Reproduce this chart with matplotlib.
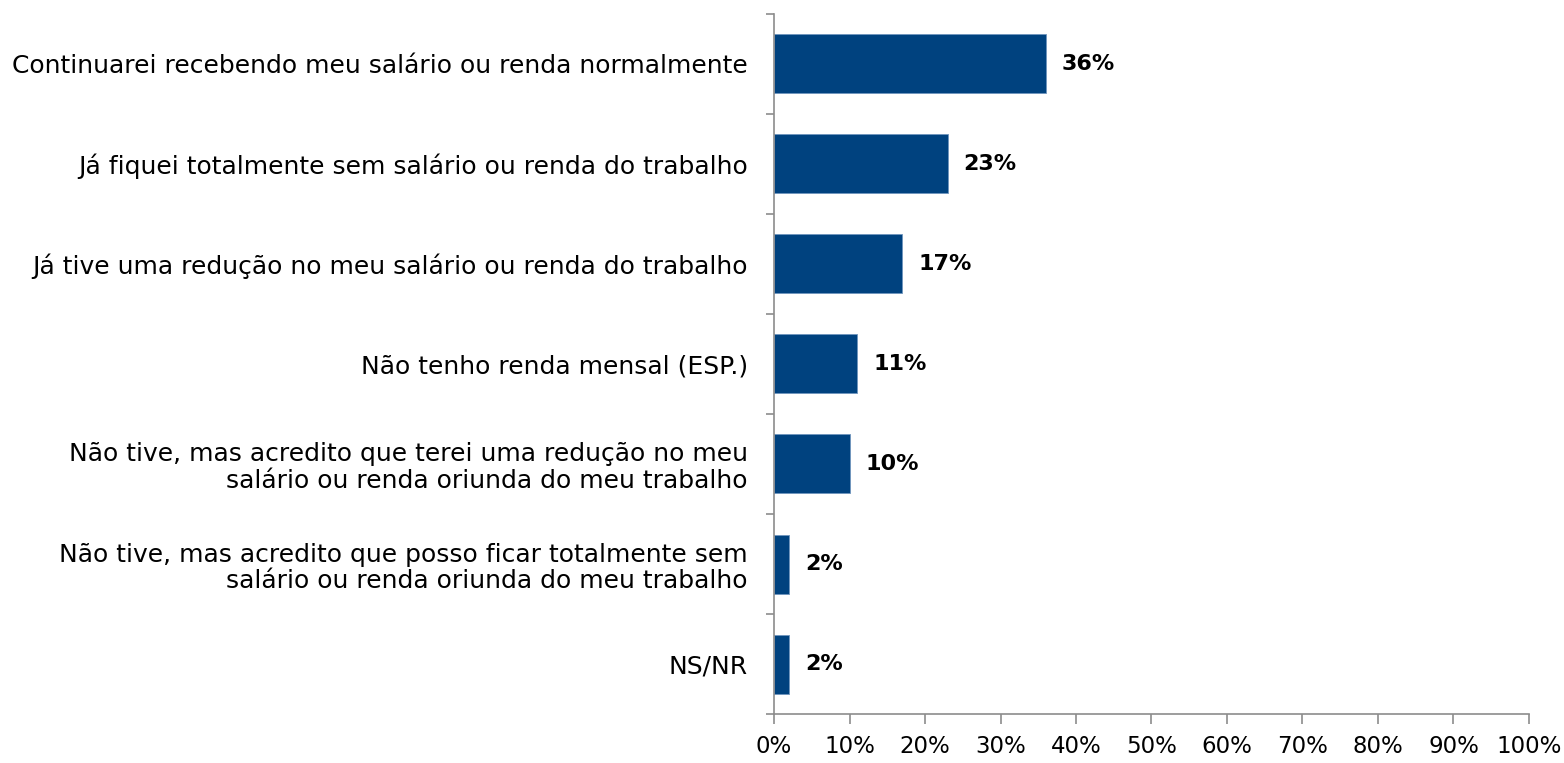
import matplotlib.pyplot as plt
from matplotlib.ticker import FixedLocator, PercentFormatter

categories = [
    "Continuarei recebendo meu salário ou renda normalmente",
    "Já fiquei totalmente sem salário ou renda do trabalho",
    "Já tive uma redução no meu salário ou renda do trabalho",
    "Não tenho renda mensal (ESP.)",
    "Não tive, mas acredito que terei uma redução no meu\nsalário ou renda oriunda do meu trabalho",
    "Não tive, mas acredito que posso ficar totalmente sem\nsalário ou renda oriunda do meu trabalho",
    "NS/NR",
]
values = [36, 23, 17, 11, 10, 2, 2]
x_ticks = list(range(0, 101, 10))

bar_color = "#00427f"
axis_color = "#8c8c8c"

plt.rcParams['font.family'] = ['DejaVu Sans']

fig = plt.figure(figsize=(15.64, 7.63), dpi=100)
ax = fig.add_axes([0.4949, 0.0642, 0.4827, 0.9175])

pos = list(range(len(categories)))
ax.barh(pos, values, height=0.59, color=bar_color, edgecolor="#6f95bd", linewidth=0.6)

for p, v in zip(pos, values):
    ax.annotate(f"{v}%", (v, p), xytext=(11.5, 0), textcoords="offset points",
                ha="left", va="center", fontsize=16, fontweight="bold", color="black")

ax.set_xlim(0, 100)
ax.set_ylim(len(categories) - 0.5, -0.5)
ax.set_xticks(x_ticks)
ax.xaxis.set_major_formatter(PercentFormatter(decimals=0))
ax.set_yticks(pos)
ax.set_yticklabels(categories, fontsize=18, linespacing=1.15)
ax.yaxis.set_minor_locator(FixedLocator([p - 0.5 for p in pos] + [len(pos) - 0.5]))

ax.tick_params(axis="y", which="major", length=0, pad=19)
ax.tick_params(axis="y", which="minor", length=6, width=1.2, color=axis_color)
ax.tick_params(axis="x", which="major", length=7, width=1.2, color=axis_color,
               labelsize=16.5, pad=8)

for side in ["top", "right"]:
    ax.spines[side].set_visible(False)
for side in ["left", "bottom"]:
    ax.spines[side].set_color(axis_color)
    ax.spines[side].set_linewidth(1.2)

fig.savefig("out.png", dpi=100)
